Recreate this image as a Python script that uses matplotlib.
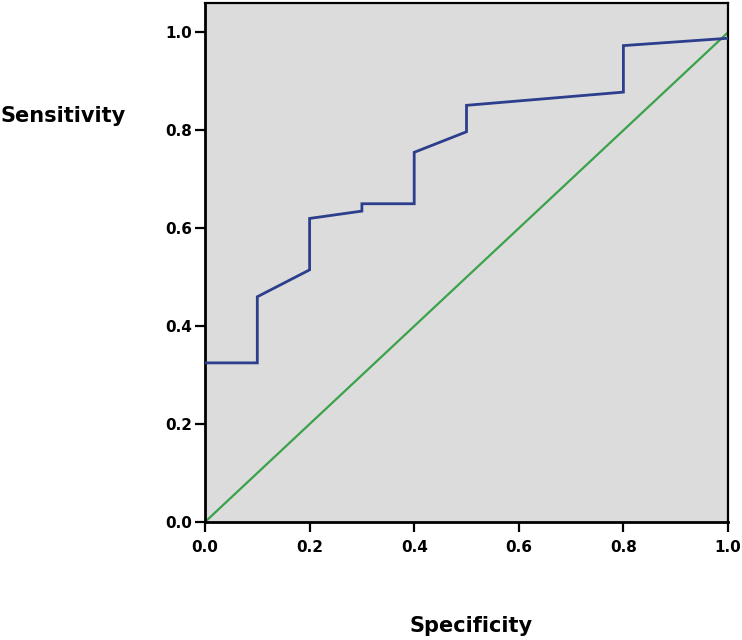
import matplotlib
matplotlib.use('Agg')
import matplotlib.pyplot as plt

# ROC curve points (1 - specificity on x, sensitivity on y)
roc_x = [0.0, 0.1, 0.1, 0.2, 0.2, 0.3, 0.3, 0.4, 0.4, 0.5, 0.5, 0.8, 0.8, 1.0]
roc_y = [0.325, 0.325, 0.46, 0.515, 0.62, 0.635, 0.65, 0.65, 0.755, 0.797, 0.851, 0.878, 0.973, 0.988]

ref_x = [0.0, 1.0]
ref_y = [0.0, 1.0]

ticks = [0.0, 0.2, 0.4, 0.6, 0.8, 1.0]
tick_labels = ['0.0', '0.2', '0.4', '0.6', '0.8', '1.0']

fig = plt.figure(figsize=(7.42, 6.40), dpi=100)
ax = fig.add_axes([205/742, 1 - 522/640, (728-205)/742, (522-3)/640])
ax.set_facecolor('#dcdcdc')

ax.plot(roc_x, roc_y, color='#2c3e8c', linewidth=2.0, solid_joinstyle='miter', zorder=3)
ax.plot(ref_x, ref_y, color='#3aa24a', linewidth=1.6, zorder=2)

ax.set_xlim(0, 1.0)
ax.set_ylim(0, 1.06)
ax.set_xticks(ticks)
ax.set_xticklabels(tick_labels)
ax.set_yticks(ticks)
ax.set_yticklabels(tick_labels)

for lbl in ax.get_xticklabels() + ax.get_yticklabels():
    lbl.set_fontfamily('DejaVu Sans')
    lbl.set_fontweight('bold')
    lbl.set_fontsize(11)

ax.tick_params(direction='out', length=7, width=1.6, color='black')
ax.tick_params(axis='x', pad=6)
ax.tick_params(axis='y', pad=2)
for side in ['left', 'bottom']:
    ax.spines[side].set_linewidth(2.0)
for side in ['top', 'right']:
    ax.spines[side].set_linewidth(1.6)

fig.text(0.0, 1 - 116/640, 'Sensitivity', fontsize=15, fontweight='bold',
         family='DejaVu Sans', ha='left', va='center')
fig.text(471/742, 1 - 626/640, 'Specificity', fontsize=15, fontweight='bold',
         family='DejaVu Sans', ha='center', va='center')

fig.savefig('out.png', dpi=100)
